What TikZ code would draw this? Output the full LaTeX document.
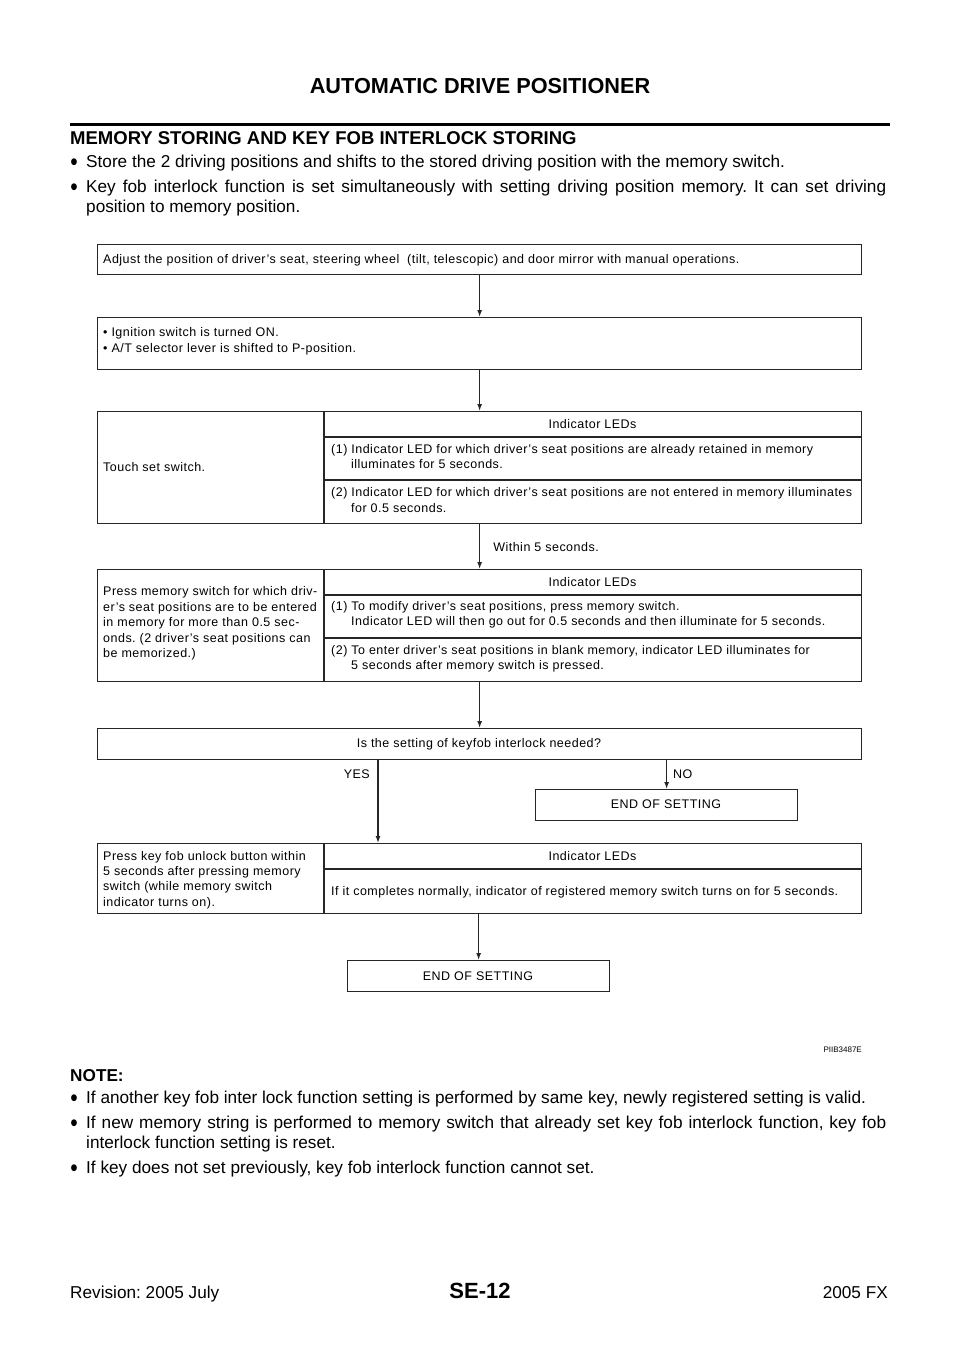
\documentclass[tikz,border=0pt]{standalone}
\usepackage{fontspec}
\setmainfont{Liberation Sans}
\newfontfamily\boxfont[LetterSpace=3.9]{Liberation Sans}
\usetikzlibrary{arrows.meta}
\tikzset{
  frame/.style={draw=black!85, line width=1.3pt, inner sep=0pt, anchor=north west},
  cellrule/.style={draw=black!85, line width=1.1pt},
  conn/.style={draw=black!85, line width=1.3pt, -{Latex[length=7pt,width=5pt]}},
  bfont/.style={font=\boxfont\fontsize{12.5}{15}\selectfont},
  bx/.style={bfont, anchor=base west, inner sep=0pt},
  bxc/.style={bfont, anchor=base, inner sep=0pt},
  body/.style={font=\fontsize{17.2}{20}\selectfont, anchor=base west, inner sep=0pt},
  bul/.style={font=\fontsize{25}{25}\selectfont, anchor=base, inner sep=0pt, xscale=0.85},
}
\frenchspacing
\begin{document}
\begin{tikzpicture}[x=1pt,y=-1pt]
\useasboundingbox[fill=white] (0,0) rectangle (960,1358);

% ---------- page header ----------
\node[font=\fontsize{21.7}{24}\selectfont\bfseries, anchor=base, inner sep=0pt] (title) at (480,93.8) {AUTOMATIC DRIVE POSITIONER};
\draw[line width=3pt] (70,124) -- (890,124);
\node[font=\fontsize{18.5}{22}\selectfont\bfseries, anchor=base west, inner sep=0pt] (head) at (70,144.6) {MEMORY STORING AND KEY FOB INTERLOCK STORING};
\node[bul] (bu1) at (74,170.5) {•};
\node[body] (t1) at (86,167) {Store the 2 driving positions and shifts to the stored driving position with the memory switch.};
\node[bul] (bu2) at (74,195.5) {•};
\node[body] (t2a) at (86,192) {\makebox[800pt][s]{Key fob interlock function is set simultaneously with setting driving position memory. It can set driving}};
\node[body] (t2b) at (86,212) {position to memory position.};

% ---------- flow chart boxes ----------
\node[frame, minimum width=764pt, minimum height=30pt] (b1) at (97,244) {};
\node[frame, minimum width=764pt, minimum height=52pt] (b2) at (97,317) {};
\node[frame, minimum width=764pt, minimum height=112pt] (b3) at (97,411) {};
\node[frame, minimum width=764pt, minimum height=112pt] (b4) at (97,569) {};
\node[frame, minimum width=764pt, minimum height=31pt] (b5) at (97,728) {};
\node[frame, minimum width=262pt, minimum height=31pt] (e1) at (535,789) {};
\node[frame, minimum width=764pt, minimum height=70pt] (b6) at (97,843) {};
\node[frame, minimum width=262pt, minimum height=31pt] (e2) at (347,960) {};

% cell rules
\draw[cellrule] (324,411) -- (324,523);
\draw[cellrule] (324,437) -- (861,437);
\draw[cellrule] (324,480) -- (861,480);
\draw[cellrule] (324,569) -- (324,681);
\draw[cellrule] (324,595) -- (861,595);
\draw[cellrule] (324,638) -- (861,638);
\draw[cellrule] (324,843) -- (324,913);
\draw[cellrule] (324,869) -- (861,869);

% box 1
\node[bx] (x1) at (103,263.5) {Adjust the position of driver’s seat, steering wheel \ (tilt, telescopic) and door mirror with manual operations.};
% box 2
\node[bx] (x2a) at (103,336.5) {• Ignition switch is turned ON.};
\node[bx] (x2b) at (103,352.5) {• A/T selector lever is shifted to P-position.};
% box 3
\node[bx] (x3l) at (103,471.5) {Touch set switch.};
\node[bxc] (x3h) at (592.5,428.5) {Indicator LEDs};
\node[bx] (x3a) at (331,453.5) {(1) Indicator LED for which driver’s seat positions are already retained in memory};
\node[bx] (x3b) at (351,468.5) {illuminates for 5 seconds.};
\node[bx] (x3c) at (331,496.5) {(2) Indicator LED for which driver’s seat positions are not entered in memory illuminates};
\node[bx] (x3d) at (351,512.5) {for 0.5 seconds.};
% box 4
\node[bx] (x4l1) at (103,595.5) {Press memory switch for which driv-};
\node[bx] (x4l2) at (103,611) {er’s seat positions are to be entered};
\node[bx] (x4l3) at (103,626.5) {in memory for more than 0.5 sec-};
\node[bx] (x4l4) at (103,642) {onds. (2 driver’s seat positions can};
\node[bx] (x4l5) at (103,657.5) {be memorized.)};
\node[bxc] (x4h) at (592.5,586.5) {Indicator LEDs};
\node[bx] (x4a) at (331,610.5) {(1) To modify driver’s seat positions, press memory switch.};
\node[bx] (x4b) at (351,625.5) {Indicator LED will then go out for 0.5 seconds and then illuminate for 5 seconds.};
\node[bx] (x4c) at (331,654.5) {(2) To enter driver’s seat positions in blank memory, indicator LED illuminates for};
\node[bx] (x4d) at (351,669.5) {5 seconds after memory switch is pressed.};
% box 5
\node[bxc] (x5) at (479,747.5) {Is the setting of keyfob interlock needed?};
% end 1
\node[bxc] (xe1) at (666,808.5) {END OF SETTING};
% box 6
\node[bx] (x6l1) at (103,860.5) {Press key fob unlock button within};
\node[bx] (x6l2) at (103,875.7) {5 seconds after pressing memory};
\node[bx] (x6l3) at (103,890.9) {switch (while memory switch};
\node[bx] (x6l4) at (103,906.1) {indicator turns on).};
\node[bxc] (x6h) at (592.5,860.5) {Indicator LEDs};
\node[bx] (x6a) at (331,895.5) {If it completes normally, indicator of registered memory switch turns on for 5 seconds.};
% end 2
\node[bxc] (xe2) at (478,980.5) {END OF SETTING};

% ---------- connectors ----------
\coordinate (yesx) at (378,0);
\draw[conn] (b1) -- (b2);
\draw[conn] (b2) -- (b3);
\draw[conn] (b3) -- (b4) node[pos=0.5, right=13pt, bfont, inner sep=0pt] (lw) {Within 5 seconds.};
\draw[conn] (b4) -- (b5);
\draw[conn] (b5.south -| e1.north) -- (e1.north);
\draw[conn] (b5.south -| yesx) -- (b6.north -| yesx);
\draw[conn] (b6.south -| e2.north) -- (e2.north);
\node[bfont, anchor=base east, inner sep=0pt] (lyes) at (370,778.5) {YES};
\node[bfont, anchor=base west, inner sep=0pt] (lno) at (673,778.5) {NO};

\node[font=\fontsize{8}{9}\selectfont, anchor=base east, inner sep=0pt] (code) at (862,1052) {PIIB3487E};

% ---------- notes ----------
\node[font=\fontsize{17.2}{20}\selectfont\bfseries, anchor=base west, inner sep=0pt] (note) at (70,1081) {NOTE:};
\node[bul] (nb1) at (74,1106.5) {•};
\node[body] (n1) at (86,1103) {If another key fob inter lock function setting is performed by same key, newly registered setting is valid.};
\node[bul] (nb2) at (74,1131.5) {•};
\node[body] (n2a) at (86,1128) {\makebox[800pt][s]{If new memory string is performed to memory switch that already set key fob interlock function, key fob}};
\node[body] (n2b) at (86,1148) {interlock function setting is reset.};
\node[bul] (nb3) at (74,1176.5) {•};
\node[body] (n3) at (86,1173) {If key does not set previously, key fob interlock function cannot set.};

% ---------- footer ----------
\node[body] (f1) at (70,1298) {Revision: 2005 July};
\node[font=\fontsize{22}{24}\selectfont\bfseries, anchor=base, inner sep=0pt] (f2) at (480,1298) {SE-12};
\node[font=\fontsize{17.2}{20}\selectfont, anchor=base east, inner sep=0pt] (f3) at (888,1298) {2005 FX};
\end{tikzpicture}
\end{document}
